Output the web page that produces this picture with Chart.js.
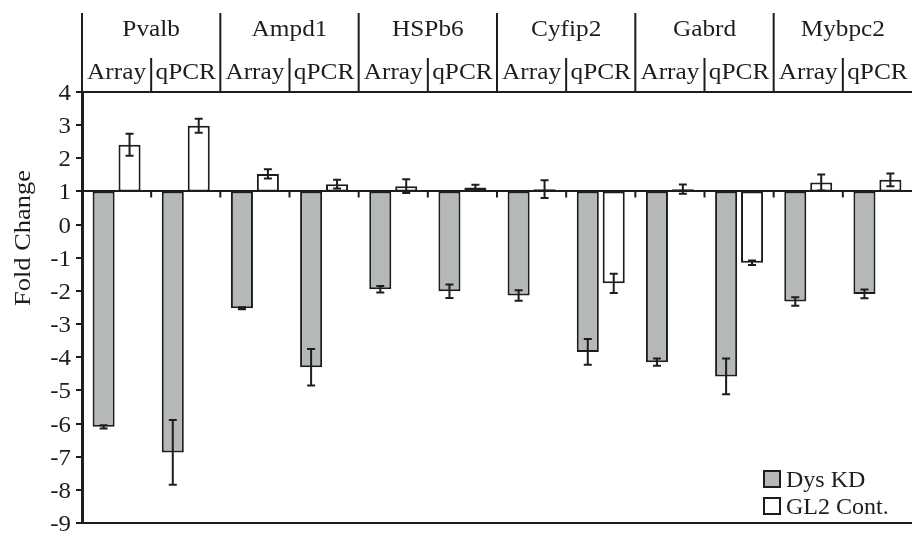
<!DOCTYPE html>
<html>
<head>
<meta charset="utf-8">
<script src="https://cdn.jsdelivr.net/npm/chart.js@4.4.1/dist/chart.umd.min.js"></script>
<style>
  html, body { margin: 0; padding: 0; background: #fff; }
  #wrap { width: 912px; height: 535px; position: relative; }
</style>
</head>
<body>
<div id="wrap"><canvas id="chart"></canvas></div>
<script>
const genes = ['Pvalb', 'Ampd1', 'HSPb6', 'Cyfip2', 'Gabrd', 'Mybpc2'];
const methods = ['Array', 'qPCR'];
const baseline = 1;
const dysKD = [-6.1, -6.87, -2.52, -4.3, -1.95, -2.01, -2.14, -3.84, -4.15, -4.58, -2.32, -2.09];
const dysKDErr = [0.05, 0.98, 0.03, 0.55, 0.1, 0.2, 0.16, 0.39, 0.11, 0.54, 0.13, 0.13];
const gl2 = [2.41, 2.98, 1.53, 1.22, 1.16, 1.12, 1.07, -1.77, 1.07, -1.15, 1.27, 1.35];
const gl2Err = [0.33, 0.21, 0.14, 0.13, 0.21, 0.08, 0.27, 0.29, 0.14, 0.07, 0.24, 0.19];
const seriesNames = ['Dys KD', 'GL2 Cont.'];
const yTicks = [4, 3, 2, 1, 0, -1, -2, -3, -4, -5, -6, -7, -8, -9];

const FONT = '"Liberation Serif", "Times New Roman", serif';
const INK = '#1f1c1d';
const GREY = '#b4b8b8';

const labels = [];
genes.forEach(g => methods.forEach(m => labels.push(g + ' ' + m)));

// text drawn a bit wider than the font, like the original figure
function wideText(ctx, text, x, y, sx, align) {
  ctx.save();
  ctx.translate(x, y);
  ctx.scale(sx, 1);
  ctx.textAlign = align;
  ctx.fillText(text, 0, 0);
  ctx.restore();
}

// error bars at the end of each floating bar
const errorBars = {
  id: 'errorBars',
  afterDatasetsDraw(chart) {
    const ctx = chart.ctx;
    const y = chart.scales.y;
    const errs = [dysKDErr, gl2Err];
    ctx.save();
    ctx.strokeStyle = INK;
    ctx.lineWidth = 2;
    chart.data.datasets.forEach((ds, d) => {
      chart.getDatasetMeta(d).data.forEach((bar, i) => {
        const v = ds.data[i][1];
        const e = errs[d][i];
        const y1 = y.getPixelForValue(v + e);
        const y2 = y.getPixelForValue(v - e);
        ctx.beginPath();
        ctx.moveTo(bar.x, y1); ctx.lineTo(bar.x, y2);
        ctx.moveTo(bar.x - 4, y1); ctx.lineTo(bar.x + 4, y1);
        ctx.moveTo(bar.x - 4, y2); ctx.lineTo(bar.x + 4, y2);
        ctx.stroke();
      });
    });
    ctx.restore();
  }
};

// header table, baseline ticks, y labels, axis title and legend
const decorations = {
  id: 'decorations',
  afterDraw(chart) {
    const ctx = chart.ctx;
    const x = chart.scales.x;
    const y = chart.scales.y;
    const area = chart.chartArea;
    const step = x.getPixelForValue(1) - x.getPixelForValue(0);
    const base = y.getPixelForValue(baseline);
    ctx.save();
    ctx.strokeStyle = INK;
    ctx.fillStyle = INK;
    ctx.lineWidth = 2;
    ctx.textBaseline = 'alphabetic';

    // small ticks under the baseline
    ctx.beginPath();
    for (let i = 1; i < labels.length; i++) {
      const bx = x.getPixelForValue(i) - step / 2;
      ctx.moveTo(bx, base); ctx.lineTo(bx, base + 6);
    }
    ctx.stroke();

    // header
    ctx.font = '23px ' + FONT;
    ctx.beginPath();
    genes.forEach((g, gi) => {
      const left = x.getPixelForValue(gi * 2) - step / 2;
      const mid = left + step;
      ctx.moveTo(left, 13); ctx.lineTo(left, area.top);
      ctx.moveTo(mid, 58); ctx.lineTo(mid, area.top);
      wideText(ctx, g, mid, 36, 1.1, 'center');
      methods.forEach((m, mi) => {
        wideText(ctx, m, x.getPixelForValue(gi * 2 + mi), 79, 1.1, 'center');
      });
    });
    ctx.stroke();

    // y tick labels
    ctx.font = '23px ' + FONT;
    yTicks.forEach(t => {
      wideText(ctx, String(t), 71, y.getPixelForValue(t) + 8, 1.08, 'right');
    });

    // y axis title
    ctx.save();
    ctx.translate(30, 238);
    ctx.rotate(-Math.PI / 2);
    ctx.scale(1.15, 1);
    ctx.textAlign = 'center';
    ctx.font = '23px ' + FONT;
    ctx.fillText('Fold Change', 0, 0);
    ctx.restore();

    // legend
    const colors = [GREY, '#ffffff'];
    ctx.font = '24px ' + FONT;
    ctx.textAlign = 'left';
    seriesNames.forEach((n, i) => {
      const ly = 487 + i * 27;
      ctx.fillStyle = colors[i];
      ctx.fillRect(764, ly - 16, 16, 16);
      ctx.strokeRect(764, ly - 16, 16, 16);
      ctx.fillStyle = INK;
      ctx.fillText(n, 786, ly);
    });
    ctx.restore();
  }
};

new Chart(document.getElementById('chart'), {
  type: 'bar',
  data: {
    labels: labels,
    datasets: [
      {
        label: seriesNames[0],
        data: dysKD.map(v => [baseline, v]),
        backgroundColor: GREY,
        borderColor: INK,
        borderWidth: 2,
        borderSkipped: false
      },
      {
        label: seriesNames[1],
        data: gl2.map(v => [baseline, v]),
        backgroundColor: '#ffffff',
        borderColor: INK,
        borderWidth: 2,
        borderSkipped: false
      }
    ]
  },
  options: {
    responsive: true,
    maintainAspectRatio: false,
    animation: false,
    layout: { padding: { top: 92, right: 0, bottom: 12, left: 0 } },
    datasets: { bar: { categoryPercentage: 0.75, barPercentage: 0.85 } },
    plugins: { legend: { display: false }, tooltip: { enabled: false } },
    scales: {
      x: { display: false, grid: { display: false } },
      y: {
        min: -9,
        max: 4,
        afterFit(scale) { scale.width = 82; },
        border: { color: INK, width: 3 },
        grid: {
          color: c => ([4, 1, -9].includes(c.tick.value) ? INK : 'rgba(0,0,0,0)'),
          lineWidth: 2,
          tickColor: INK,
          tickLength: 6
        },
        ticks: { stepSize: 1, display: false }
      }
    }
  },
  plugins: [errorBars, decorations]
});
</script>
</body>
</html>
